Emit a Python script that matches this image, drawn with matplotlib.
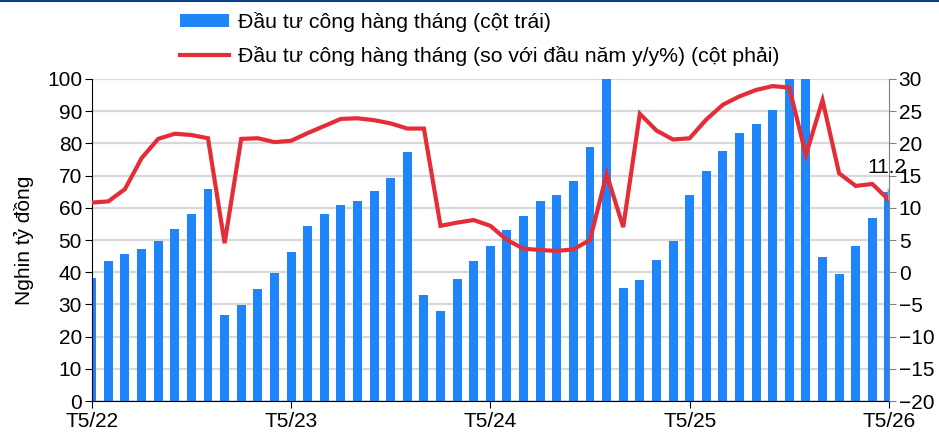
import numpy as np
import matplotlib.pyplot as plt
from matplotlib.lines import Line2D
from matplotlib.patches import Patch

plt.rcParams['font.family'] = ['Liberation Sans', 'DejaVu Sans']

# monthly data, T5/22 .. T5/26
months = ['T5/22', 'T5/23', 'T5/24', 'T5/25', 'T5/26']
invest = [38.2, 43.5, 45.7, 47.2, 49.7, 53.4, 58.1, 65.8, 26.7, 29.8,
          34.8, 39.8, 46.3, 54.3, 58.1, 60.9, 62.1, 65.2, 69.3, 77.3,
          32.9, 28.0, 37.9, 43.5, 48.1, 53.1, 57.5, 62.1, 64.0, 68.3,
          78.9, 108.0, 35.1, 37.6, 43.8, 49.7, 64.0, 71.4, 77.6, 83.2,
          86.0, 90.4, 105.0, 112.0, 44.7, 39.4, 48.1, 56.8, 65.0]
yoy = [10.8, 11.0, 12.9, 17.7, 20.7, 21.5, 21.3, 20.8, 4.5, 20.7,
       20.8, 20.2, 20.4, 21.6, 22.7, 23.8, 23.9, 23.6, 23.1, 22.3,
       22.3, 7.2, 7.7, 8.1, 7.2, 5.0, 3.65, 3.45, 3.3, 3.55,
       5.0, 15.25, 7.0, 24.6, 22.0, 20.6, 20.8, 23.7, 26.0, 27.3,
       28.3, 28.9, 28.65, 18.2, 26.7, 15.35, 13.4, 13.7, 11.2]

blue = '#1f85fb'
red = '#e52d38'
fs = 15

fig = plt.figure(figsize=(9.39, 4.34), dpi=100)
ax = fig.add_axes([0.0977, 0.076, 0.849, 0.742])
ax2 = ax.twinx()

x = np.arange(len(invest))
ax.bar(x, invest, width=0.54, color=blue, zorder=2)
ax2.plot(x, yoy, color=red, linewidth=3, zorder=3, solid_joinstyle='miter')

ax.set_xlim(0, len(invest) - 1)
ax.set_ylim(0, 100)
ax.set_yticks(np.arange(0, 101, 10))
ax2.set_ylim(-20, 30)
ax2.set_yticks(np.arange(-20, 31, 5))
ax.set_xticks(np.arange(0, len(invest), 12))
ax.set_xticklabels(months)

ax.yaxis.grid(True, color='#d9d9d9', linewidth=1.6, zorder=0)
ax.set_axisbelow(True)
ax.set_zorder(ax2.get_zorder() - 1)
ax.patch.set_visible(False)

for s in ['top', 'right']:
    ax.spines[s].set_visible(False)
ax2.spines['top'].set_visible(False)
ax2.spines['left'].set_visible(False)
ax2.spines['bottom'].set_visible(False)
ax2.spines['right'].set_color('#808080')
ax.spines['left'].set_color('black')
ax.spines['bottom'].set_color('black')

ax.tick_params(axis='both', labelsize=fs, length=5, direction='out', pad=2)
ax.tick_params(axis='x', pad=3)
ax2.tick_params(axis='y', labelsize=fs, length=5, color='#808080', pad=2)
ax.set_ylabel('Nghin tỷ đồng', fontsize=fs, labelpad=9)

# label for the last point
ax2.annotate(f'{yoy[-1]:.1f}', xy=(x[-1], yoy[-1]), xytext=(x[-1] - 0.15, 16.3),
             fontsize=fs, ha='center', va='center',
             arrowprops=dict(arrowstyle='-', color='#a0a0a0', lw=1, shrinkA=7, shrinkB=0))

# legend
handles = [Patch(facecolor=blue, edgecolor='none'),
           Line2D([0], [0], color=red, linewidth=3)]
labels = ['Đầu tư công hàng tháng (cột trái)',
          'Đầu tư công hàng tháng (so với đầu năm y/y%) (cột phải)']
fig.legend(handles, labels, loc='upper left', bbox_to_anchor=(180 / 939, 1 - 12 / 434),
           frameon=False, fontsize=15.3, handlelength=2.3, handleheight=0.6,
           handletextpad=0.45, labelspacing=0.68, borderaxespad=0, borderpad=0)

# thin rule across the top
fig.add_artist(Line2D([0, 1], [0.998, 0.998], transform=fig.transFigure,
                      color='#0b3f86', linewidth=1.5))

plt.savefig('out.png', dpi=100)
